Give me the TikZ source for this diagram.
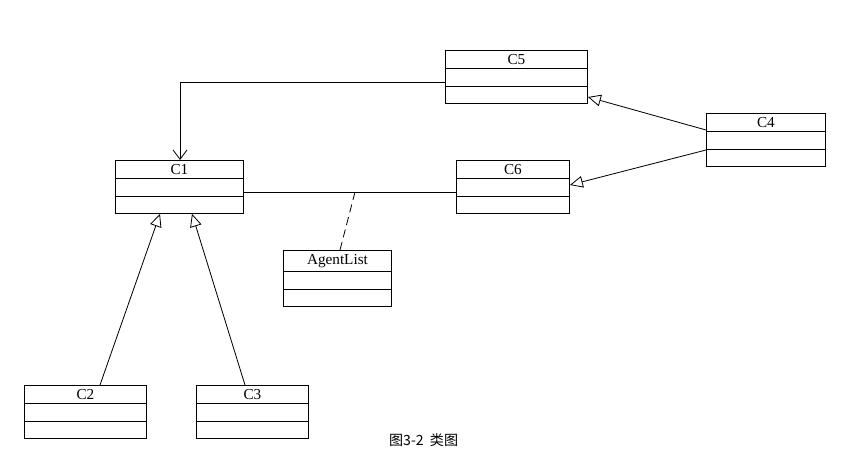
\documentclass[tikz,border=0pt]{standalone}
\usepackage{fontspec}
\setmainfont{Liberation Serif}
\newfontfamily\cjk{Noto Sans CJK SC}
\usetikzlibrary{shapes.multipart,arrows.meta}
\tikzset{
  umlclass/.style={draw, rectangle split, rectangle split parts=3,
    rectangle split empty part height=8pt, inner ysep=3pt,
    font=\fontsize{13}{15}\selectfont, line width=0.8pt, anchor=north west},
  inherit/.style={-{Triangle[open,length=11pt,width=10pt]}, line width=0.7pt},
  assoc/.style={line width=0.7pt}
}
\begin{document}
\begin{tikzpicture}[x=0.03cm,y=-0.03cm]
  \useasboundingbox (0,0) rectangle (855,476);
  % classes
  \node[umlclass, minimum width=142*0.03cm] (c5) at (445,50) {C5\nodepart{two}\nodepart{three}};
  \node[umlclass, minimum width=119*0.03cm] (c4) at (706,113) {C4\nodepart{two}\nodepart{three}};
  \node[umlclass, minimum width=128*0.03cm] (c1) at (115,160) {C1\nodepart{two}\nodepart{three}};
  \node[umlclass, minimum width=113*0.03cm] (c6) at (456,160) {C6\nodepart{two}\nodepart{three}};
  \node[umlclass, minimum width=108*0.03cm] (al) at (283,250) {AgentList\nodepart{two}\nodepart{three}};
  \node[umlclass, minimum width=122*0.03cm] (c2) at (24,385) {C2\nodepart{two}\nodepart{three}};
  \node[umlclass, minimum width=112*0.03cm] (c3) at (196,385) {C3\nodepart{two}\nodepart{three}};
  % connectors
  \draw[assoc, -{Straight Barb[length=8pt,width=12pt]}] (c5.west |- 0,82) -| (c1.north -| 180,0);
  \draw[inherit] (c4.west |- 0,130) -- (c5.east |- 0,97);
  \draw[inherit] (c4.west |- 0,150) -- (c6.east |- 0,185);
  \draw[assoc] (c1.east |- 0,192) -- (c6.west |- 0,192);
  \coordinate (mid) at (355,192);
  \draw[assoc, dashed, dash pattern=on 7pt off 4pt] (mid) -- (al.north -| 340,0);
  \draw[inherit] (c2.north -| 100,0) -- (c1.south -| 160,0);
  \draw[inherit] (c3.north -| 245,0) -- (c1.south -| 192,0);
  \node[font=\cjk\fontsize{12}{14}\selectfont, anchor=west] (cap) at (385,440) {图3-2\ \ 类图};
\end{tikzpicture}
\end{document}
